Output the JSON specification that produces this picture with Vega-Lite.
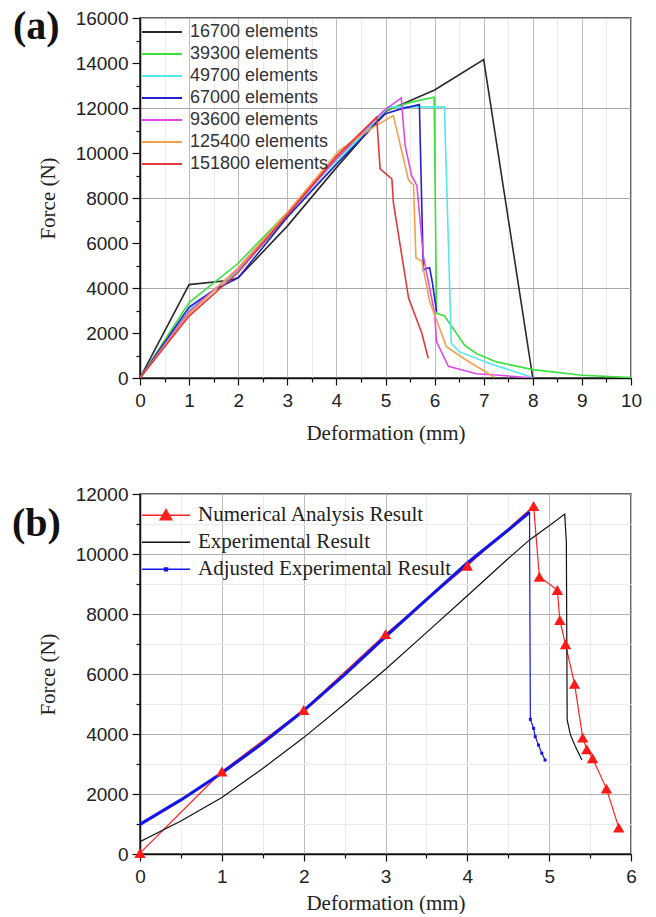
{
  "$schema": "https://vega.github.io/schema/vega-lite/v6.json",
  "background": "white",
  "padding": {"left": 11, "top": 6, "right": 8, "bottom": 0},
  "spacing": 40,
  "resolve": {"scale": {"color": "independent"}, "legend": {"color": "independent"}},
  "config": {
    "view": {"stroke": "#333", "strokeWidth": 1.5},
    "axis": {
      "labelFont": "Liberation Sans", "labelFontSize": 19, "labelColor": "#222",
      "titleFont": "Liberation Serif", "titleFontSize": 21, "titleFontWeight": "normal", "titleColor": "#222",
      "domainColor": "#111", "domainWidth": 1.5, "tickColor": "#111", "tickWidth": 1.2,
      "labelOverlap": false, "labelFlush": false, "labelBound": false
    }
  },
  "datasets": {
    "a": [
      {"s": "16700 elements", "i": 0, "x": 0, "y": 0},
      {"s": "16700 elements", "i": 1, "x": 1, "y": 4150},
      {"s": "16700 elements", "i": 2, "x": 1.8, "y": 4330},
      {"s": "16700 elements", "i": 3, "x": 2, "y": 4450},
      {"s": "16700 elements", "i": 4, "x": 3, "y": 6750},
      {"s": "16700 elements", "i": 5, "x": 4, "y": 9350},
      {"s": "16700 elements", "i": 6, "x": 5, "y": 11850},
      {"s": "16700 elements", "i": 7, "x": 6, "y": 12800},
      {"s": "16700 elements", "i": 8, "x": 7, "y": 14150},
      {"s": "16700 elements", "i": 9, "x": 8, "y": 0},
      {"s": "39300 elements", "i": 0, "x": 0, "y": 0},
      {"s": "39300 elements", "i": 1, "x": 1, "y": 3350},
      {"s": "39300 elements", "i": 2, "x": 2, "y": 5100},
      {"s": "39300 elements", "i": 3, "x": 3, "y": 7350},
      {"s": "39300 elements", "i": 4, "x": 4, "y": 9700},
      {"s": "39300 elements", "i": 5, "x": 5, "y": 11900},
      {"s": "39300 elements", "i": 6, "x": 5.5, "y": 12250},
      {"s": "39300 elements", "i": 7, "x": 5.99, "y": 12480},
      {"s": "39300 elements", "i": 8, "x": 6.04, "y": 2880},
      {"s": "39300 elements", "i": 9, "x": 6.2, "y": 2760},
      {"s": "39300 elements", "i": 10, "x": 6.61, "y": 1460},
      {"s": "39300 elements", "i": 11, "x": 6.85, "y": 1090},
      {"s": "39300 elements", "i": 12, "x": 7.26, "y": 716},
      {"s": "39300 elements", "i": 13, "x": 8, "y": 373},
      {"s": "39300 elements", "i": 14, "x": 9, "y": 120},
      {"s": "39300 elements", "i": 15, "x": 10, "y": 20},
      {"s": "49700 elements", "i": 0, "x": 0, "y": 0},
      {"s": "49700 elements", "i": 1, "x": 1, "y": 3050},
      {"s": "49700 elements", "i": 2, "x": 2, "y": 4750},
      {"s": "49700 elements", "i": 3, "x": 3, "y": 7150},
      {"s": "49700 elements", "i": 4, "x": 4, "y": 9550},
      {"s": "49700 elements", "i": 5, "x": 5, "y": 11900},
      {"s": "49700 elements", "i": 6, "x": 5.05, "y": 12050},
      {"s": "49700 elements", "i": 7, "x": 6.2, "y": 12050},
      {"s": "49700 elements", "i": 8, "x": 6.34, "y": 1540},
      {"s": "49700 elements", "i": 9, "x": 6.51, "y": 1160},
      {"s": "49700 elements", "i": 10, "x": 7.12, "y": 640},
      {"s": "49700 elements", "i": 11, "x": 7.86, "y": 120},
      {"s": "49700 elements", "i": 12, "x": 8, "y": 0},
      {"s": "67000 elements", "i": 0, "x": 0, "y": 0},
      {"s": "67000 elements", "i": 1, "x": 1, "y": 3150},
      {"s": "67000 elements", "i": 2, "x": 1.5, "y": 3900},
      {"s": "67000 elements", "i": 3, "x": 2, "y": 4450},
      {"s": "67000 elements", "i": 4, "x": 3, "y": 7150},
      {"s": "67000 elements", "i": 5, "x": 4, "y": 9500},
      {"s": "67000 elements", "i": 6, "x": 5, "y": 11750},
      {"s": "67000 elements", "i": 7, "x": 5.3, "y": 11950},
      {"s": "67000 elements", "i": 8, "x": 5.69, "y": 12150},
      {"s": "67000 elements", "i": 9, "x": 5.77, "y": 4800},
      {"s": "67000 elements", "i": 10, "x": 5.83, "y": 4870},
      {"s": "67000 elements", "i": 11, "x": 5.9, "y": 4900},
      {"s": "67000 elements", "i": 12, "x": 5.95, "y": 4300},
      {"s": "67000 elements", "i": 13, "x": 6.04, "y": 2950},
      {"s": "93600 elements", "i": 0, "x": 0, "y": 0},
      {"s": "93600 elements", "i": 1, "x": 1, "y": 2950},
      {"s": "93600 elements", "i": 2, "x": 2, "y": 4850},
      {"s": "93600 elements", "i": 3, "x": 3, "y": 7250},
      {"s": "93600 elements", "i": 4, "x": 4, "y": 9750},
      {"s": "93600 elements", "i": 5, "x": 4.96, "y": 11870},
      {"s": "93600 elements", "i": 6, "x": 5.32, "y": 12450},
      {"s": "93600 elements", "i": 7, "x": 5.4, "y": 10340},
      {"s": "93600 elements", "i": 8, "x": 5.53, "y": 9000},
      {"s": "93600 elements", "i": 9, "x": 5.64, "y": 8550},
      {"s": "93600 elements", "i": 10, "x": 5.77, "y": 5420},
      {"s": "93600 elements", "i": 11, "x": 6, "y": 2880},
      {"s": "93600 elements", "i": 12, "x": 6.04, "y": 1610},
      {"s": "93600 elements", "i": 13, "x": 6.28, "y": 520},
      {"s": "93600 elements", "i": 14, "x": 6.85, "y": 190},
      {"s": "93600 elements", "i": 15, "x": 7.32, "y": 120},
      {"s": "93600 elements", "i": 16, "x": 8, "y": 0},
      {"s": "125400 elements", "i": 0, "x": 0, "y": 0},
      {"s": "125400 elements", "i": 1, "x": 1, "y": 2850},
      {"s": "125400 elements", "i": 2, "x": 2, "y": 4900},
      {"s": "125400 elements", "i": 3, "x": 3, "y": 7350},
      {"s": "125400 elements", "i": 4, "x": 4.05, "y": 10100},
      {"s": "125400 elements", "i": 5, "x": 4.76, "y": 11160},
      {"s": "125400 elements", "i": 6, "x": 5.16, "y": 11660},
      {"s": "125400 elements", "i": 7, "x": 5.47, "y": 8780},
      {"s": "125400 elements", "i": 8, "x": 5.57, "y": 8580},
      {"s": "125400 elements", "i": 9, "x": 5.62, "y": 5340},
      {"s": "125400 elements", "i": 10, "x": 5.74, "y": 5190},
      {"s": "125400 elements", "i": 11, "x": 5.9, "y": 3400},
      {"s": "125400 elements", "i": 12, "x": 6.24, "y": 1390},
      {"s": "125400 elements", "i": 13, "x": 6.65, "y": 790},
      {"s": "125400 elements", "i": 14, "x": 7.22, "y": 30},
      {"s": "151800 elements", "i": 0, "x": 0, "y": 0},
      {"s": "151800 elements", "i": 1, "x": 1, "y": 2750},
      {"s": "151800 elements", "i": 2, "x": 2, "y": 4700},
      {"s": "151800 elements", "i": 3, "x": 3, "y": 7250},
      {"s": "151800 elements", "i": 4, "x": 4, "y": 9850},
      {"s": "151800 elements", "i": 5, "x": 4.82, "y": 11600},
      {"s": "151800 elements", "i": 6, "x": 4.89, "y": 9300},
      {"s": "151800 elements", "i": 7, "x": 5.13, "y": 8850},
      {"s": "151800 elements", "i": 8, "x": 5.16, "y": 7800},
      {"s": "151800 elements", "i": 9, "x": 5.47, "y": 3550},
      {"s": "151800 elements", "i": 10, "x": 5.74, "y": 1990},
      {"s": "151800 elements", "i": 11, "x": 5.87, "y": 870}
    ],
    "b": [
      {"s": "Numerical Analysis Result", "i": 0, "x": 0, "y": 30},
      {"s": "Numerical Analysis Result", "i": 1, "x": 1, "y": 2750},
      {"s": "Numerical Analysis Result", "i": 2, "x": 2, "y": 4800},
      {"s": "Numerical Analysis Result", "i": 3, "x": 3, "y": 7330},
      {"s": "Numerical Analysis Result", "i": 4, "x": 4, "y": 9610},
      {"s": "Numerical Analysis Result", "i": 5, "x": 4.81, "y": 11600},
      {"s": "Numerical Analysis Result", "i": 6, "x": 4.88, "y": 9240},
      {"s": "Numerical Analysis Result", "i": 7, "x": 5.1, "y": 8800},
      {"s": "Numerical Analysis Result", "i": 8, "x": 5.13, "y": 7800},
      {"s": "Numerical Analysis Result", "i": 9, "x": 5.2, "y": 6990},
      {"s": "Numerical Analysis Result", "i": 10, "x": 5.31, "y": 5670},
      {"s": "Numerical Analysis Result", "i": 11, "x": 5.41, "y": 3880},
      {"s": "Numerical Analysis Result", "i": 12, "x": 5.46, "y": 3490},
      {"s": "Numerical Analysis Result", "i": 13, "x": 5.53, "y": 3190},
      {"s": "Numerical Analysis Result", "i": 14, "x": 5.7, "y": 2180},
      {"s": "Numerical Analysis Result", "i": 15, "x": 5.85, "y": 880},
      {"s": "Experimental Result", "i": 0, "x": 0, "y": 410},
      {"s": "Experimental Result", "i": 1, "x": 0.5, "y": 1100},
      {"s": "Experimental Result", "i": 2, "x": 1, "y": 1880},
      {"s": "Experimental Result", "i": 3, "x": 1.5, "y": 2850},
      {"s": "Experimental Result", "i": 4, "x": 2, "y": 3880},
      {"s": "Experimental Result", "i": 5, "x": 2.5, "y": 5000},
      {"s": "Experimental Result", "i": 6, "x": 3, "y": 6160},
      {"s": "Experimental Result", "i": 7, "x": 3.5, "y": 7380},
      {"s": "Experimental Result", "i": 8, "x": 4, "y": 8610},
      {"s": "Experimental Result", "i": 9, "x": 4.5, "y": 9850},
      {"s": "Experimental Result", "i": 10, "x": 4.76, "y": 10470},
      {"s": "Experimental Result", "i": 11, "x": 5, "y": 10940},
      {"s": "Experimental Result", "i": 12, "x": 5.19, "y": 11330},
      {"s": "Experimental Result", "i": 13, "x": 5.21, "y": 10400},
      {"s": "Experimental Result", "i": 14, "x": 5.215, "y": 7400},
      {"s": "Experimental Result", "i": 15, "x": 5.22, "y": 4470},
      {"s": "Experimental Result", "i": 16, "x": 5.26, "y": 3970},
      {"s": "Experimental Result", "i": 17, "x": 5.32, "y": 3580},
      {"s": "Experimental Result", "i": 18, "x": 5.4, "y": 3130},
      {"s": "Adjusted Experimental Result", "i": 0, "x": 0, "y": 990},
      {"s": "Adjusted Experimental Result", "i": 1, "x": 0.5, "y": 1800},
      {"s": "Adjusted Experimental Result", "i": 2, "x": 1, "y": 2700},
      {"s": "Adjusted Experimental Result", "i": 3, "x": 1.5, "y": 3700},
      {"s": "Adjusted Experimental Result", "i": 4, "x": 2, "y": 4780},
      {"s": "Adjusted Experimental Result", "i": 5, "x": 2.5, "y": 5980},
      {"s": "Adjusted Experimental Result", "i": 6, "x": 3, "y": 7250},
      {"s": "Adjusted Experimental Result", "i": 7, "x": 3.5, "y": 8480},
      {"s": "Adjusted Experimental Result", "i": 8, "x": 4, "y": 9700},
      {"s": "Adjusted Experimental Result", "i": 9, "x": 4.5, "y": 10800},
      {"s": "Adjusted Experimental Result", "i": 10, "x": 4.76, "y": 11390},
      {"s": "Adjusted Experimental Result", "i": 11, "x": 4.77, "y": 4490},
      {"s": "Adjusted Experimental Result", "i": 12, "x": 4.81, "y": 4190},
      {"s": "Adjusted Experimental Result", "i": 13, "x": 4.83, "y": 3910},
      {"s": "Adjusted Experimental Result", "i": 14, "x": 4.87, "y": 3630},
      {"s": "Adjusted Experimental Result", "i": 15, "x": 4.91, "y": 3360},
      {"s": "Adjusted Experimental Result", "i": 16, "x": 4.95, "y": 3130}
    ]
  },
  "vconcat": [
    {
      "width": 491,
      "height": 360,
      "data": {"name": "a"},
      "title": {"text": "(a)", "anchor": "start", "frame": "group", "orient": "top", "font": "Liberation Serif", "fontWeight": "bold", "fontSize": 40, "color": "#111", "dx": -127, "offset": -70, "baseline": "alphabetic"},
      "mark": {"type": "line", "strokeWidth": 1.6, "clip": true},
      "encoding": {
        "x": {"field": "x", "type": "quantitative", "scale": {"domain": [0, 10], "nice": false, "zero": false},
          "axis": {"title": "Deformation (mm)", "values": [0,0.5,1,1.5,2,2.5,3,3.5,4,4.5,5,5.5,6,6.5,7,7.5,8,8.5,9,9.5,10],
            "labelExpr": "datum.value % 1 === 0 ? format(datum.value, 'd') : ''",
            "tickSize": {"condition": {"test": "datum.value % 1 === 0", "value": 7}, "value": 4},
            "gridColor": {"condition": {"test": "datum.value % 1 === 0", "value": "#bdbdbd"}, "value": "#ebebeb"},
            "labelPadding": 6, "titlePadding": 12}},
        "y": {"field": "y", "type": "quantitative", "scale": {"domain": [0, 16000], "nice": false},
          "axis": {"title": "Force (N)", "values": [0,1000,2000,3000,4000,5000,6000,7000,8000,9000,10000,11000,12000,13000,14000,15000,16000],
            "labelExpr": "datum.value % 2000 === 0 ? format(datum.value, 'd') : ''",
            "tickSize": {"condition": {"test": "datum.value % 2000 === 0", "value": 8}, "value": 4},
            "gridColor": {"condition": {"test": "datum.value % 4000 === 0", "value": "#a8a8a8"}, "value": {"expr": "datum.value % 2000 === 0 ? '#c4c4c4' : '#ebebeb'"}},
            "labelPadding": 4, "titlePadding": 17}},
        "color": {"field": "s", "type": "nominal",
          "scale": {"domain": ["16700 elements", "39300 elements", "49700 elements", "67000 elements", "93600 elements", "125400 elements", "151800 elements"],
            "range": ["#2a2a2a", "#3be03b", "#55e6ee", "#2323c8", "#e048ea", "#f2a048", "#e23a3a"]},
          "legend": {"orient": "none", "legendX": 1, "legendY": 3, "title": null, "symbolType": "stroke", "symbolSize": 1600, "symbolStrokeWidth": 2, "clipHeight": 22, "rowPadding": 0, "labelFont": "Liberation Sans", "labelFontSize": 18, "labelColor": "#333", "labelOffset": 7, "padding": 0, "labelLimit": 0}},
        "order": {"field": "i"}
      }
    },
    {
      "width": 491,
      "height": 360,
      "title": {"text": "(b)", "anchor": "start", "frame": "group", "orient": "top", "font": "Liberation Serif", "fontWeight": "bold", "fontSize": 40, "color": "#111", "dx": -128, "offset": -91, "baseline": "alphabetic"},
      "encoding": {
        "x": {"field": "x", "type": "quantitative", "scale": {"domain": [0, 6], "nice": false, "zero": false},
          "axis": {"title": "Deformation (mm)", "values": [0,0.5,1,1.5,2,2.5,3,3.5,4,4.5,5,5.5,6],
            "labelExpr": "datum.value % 1 === 0 ? format(datum.value, 'd') : ''",
            "tickSize": {"condition": {"test": "datum.value % 1 === 0", "value": 7}, "value": 4},
            "gridColor": {"condition": {"test": "datum.value % 1 === 0", "value": "#bdbdbd"}, "value": "#ebebeb"},
            "labelPadding": 6, "titlePadding": 6}},
        "y": {"field": "y", "type": "quantitative", "scale": {"domain": [0, 12000], "nice": false},
          "axis": {"title": "Force (N)", "values": [0,1000,2000,3000,4000,5000,6000,7000,8000,9000,10000,11000,12000],
            "labelExpr": "datum.value % 2000 === 0 ? format(datum.value, 'd') : ''",
            "tickSize": {"condition": {"test": "datum.value % 2000 === 0", "value": 8}, "value": 4},
            "gridColor": {"condition": {"test": "datum.value % 2000 === 0", "value": "#b0b0b0"}, "value": "#ebebeb"},
            "labelPadding": 4, "titlePadding": 17}}
      },
      "layer": [
        {
          "data": {"name": "b"},
          "mark": {"type": "line", "clip": true, "strokeWidth": 1.2},
          "encoding": {
            "color": {"field": "s", "type": "nominal",
              "scale": {"domain": ["Numerical Analysis Result", "Experimental Result", "Adjusted Experimental Result"], "range": ["#ff2020", "#111111", "#1414e6"]},
              "legend": {"orient": "none", "legendX": 1, "legendY": 8, "title": null, "symbolSize": 2304, "symbolStrokeWidth": 1.5, "clipHeight": 26.7, "rowPadding": 0, "labelFont": "Liberation Serif", "labelFontSize": 21, "labelColor": "#222", "labelOffset": 7, "padding": 0, "labelLimit": 0,
                "encode": {"symbols": {"update": {
                  "shape": {"signal": "datum.value === 'Numerical Analysis Result' ? 'M-1,0H1M0,-0.24L0.24,0.18L-0.24,0.18Z' : (datum.value === 'Adjusted Experimental Result' ? 'M-1,0H1M-0.06,-0.06H0.06V0.06H-0.06Z' : 'stroke')"},
                  "fill": {"signal": "datum.value === 'Numerical Analysis Result' ? '#ff2020' : (datum.value === 'Adjusted Experimental Result' ? '#1414e6' : 'transparent')"}
                }}}}},
            "order": {"field": "i"}
          }
        },
        {
          "data": {"name": "b"},
          "transform": [{"filter": "datum.s === 'Adjusted Experimental Result' && datum.x <= 4.76"}],
          "mark": {"type": "line", "clip": true, "strokeWidth": 3.2, "color": "#1414e6"},
          "encoding": {"order": {"field": "i"}}
        },
        {
          "data": {"name": "b"},
          "transform": [{"filter": "datum.s === 'Numerical Analysis Result'"}],
          "mark": {"type": "point", "shape": "triangle-up", "filled": true, "size": 130, "color": "#ff1a1a", "opacity": 1}
        },
        {
          "data": {"name": "b"},
          "transform": [{"filter": "datum.s === 'Adjusted Experimental Result' && datum.x >= 4.77"}],
          "mark": {"type": "square", "size": 9, "color": "#1414e6", "opacity": 1}
        }
      ]
    }
  ]
}
